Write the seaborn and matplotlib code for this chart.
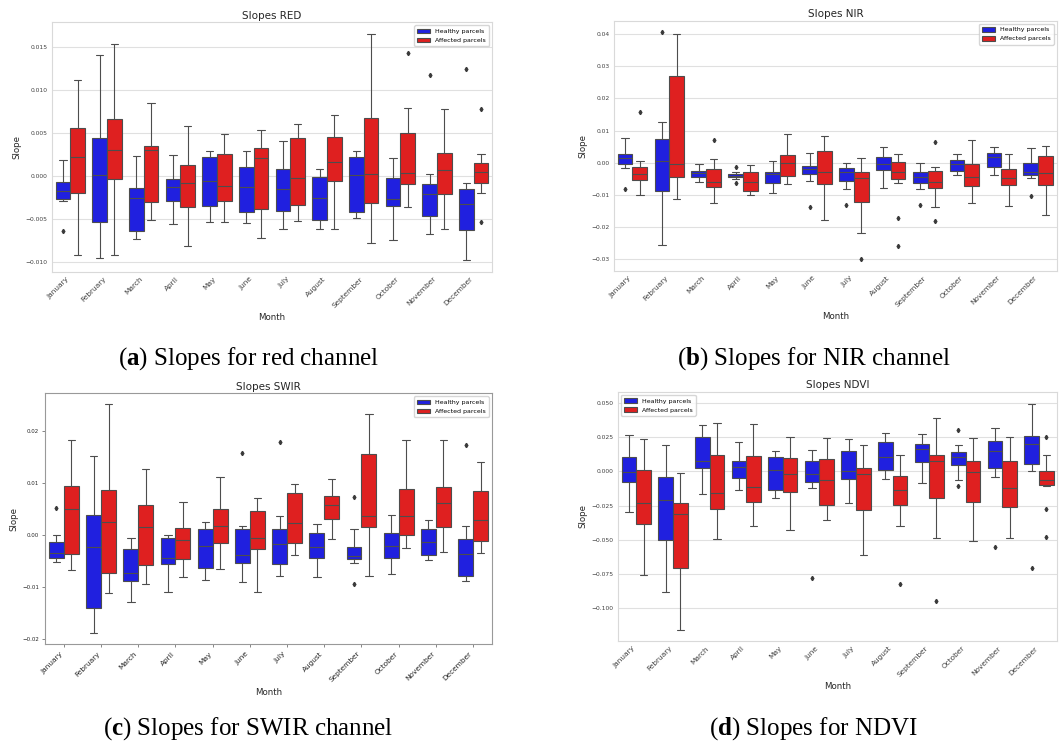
import numpy as np
import pandas as pd
import seaborn as sns
import matplotlib.pyplot as plt
from matplotlib.ticker import MultipleLocator

months = ['January', 'February', 'March', 'April', 'May', 'June', 'July',
          'August', 'September', 'October', 'November', 'December']
groups = ['Healthy parcels', 'Affected parcels']

# each row: [lower whisker, Q1, median, Q3, upper whisker]
red_healthy = [
    [-0.00286, -0.00263, -0.00174, -0.00066, 0.00193],
    [-0.00951, -0.00530, 0.00012, 0.00449, 0.01415],
    [-0.00735, -0.00634, -0.00251, -0.00139, 0.00232],
    [-0.00557, -0.00286, -0.00128, -0.00027, 0.00244],
    [-0.00530, -0.00348, -0.00050, 0.00228, 0.00298],
    [-0.00545, -0.00414, -0.00120, 0.00112, 0.00298],
    [-0.00615, -0.00402, -0.00143, 0.00089, 0.00410],
    [-0.00615, -0.00503, -0.00255, -0.00008, 0.00081],
    [-0.00487, -0.00414, 0.00012, 0.00228, 0.00294],
    [-0.00746, -0.00344, -0.00267, -0.00015, 0.00213],
    [-0.00673, -0.00464, -0.00209, -0.00093, 0.00031],
    [-0.00971, -0.00623, -0.00325, -0.00151, -0.00073],
]
red_affected = [
    [-0.00916, -0.00197, 0.00228, 0.00561, 0.01121],
    [-0.00920, -0.00031, 0.00309, 0.00661, 0.01543],
    [-0.00507, -0.00302, 0.00310, 0.00352, 0.00855],
    [-0.00812, -0.00360, -0.00073, 0.00128, 0.00588],
    [-0.00530, -0.00286, -0.00108, 0.00263, 0.00495],
    [-0.00719, -0.00383, 0.00209, 0.00325, 0.00541],
    [-0.00522, -0.00340, -0.00023, 0.00441, 0.00603],
    [-0.00615, -0.00054, 0.00162, 0.00460, 0.00708],
    [-0.00777, -0.00313, 0.00023, 0.00681, 0.01655],
    [-0.00360, -0.00085, 0.00043, 0.00507, 0.00797],
    [-0.00615, -0.00201, 0.00070, 0.00267, 0.00777],
    [-0.00193, -0.00077, 0.00054, 0.00159, 0.00255],
]
red_healthy_out = [[-0.00642], [], [], [], [], [], [], [], [], [], [0.01176], [0.01245]]
red_affected_out = [[], [], [], [], [], [], [], [], [], [0.0143], [], [0.00781, -0.00534]]

nir_healthy = [
    [-0.00176, -0.00041, 0.00145, 0.00280, 0.00755],
    [-0.02573, -0.00882, 0.00062, 0.00726, 0.01255],
    [-0.00591, -0.00436, -0.00332, -0.00270, -0.00030],
    [-0.00510, -0.00450, -0.00405, -0.00340, -0.00280],
    [-0.00934, -0.00643, -0.00353, -0.00280, 0.00041],
    [-0.00581, -0.00353, -0.00207, -0.00093, 0.00290],
    [-0.00809, -0.00571, -0.00290, -0.00156, -0.00010],
    [-0.00778, -0.00239, -0.00031, 0.00187, 0.00488],
    [-0.00830, -0.00622, -0.00446, -0.00280, -0.00010],
    [-0.00394, -0.00249, -0.00052, 0.00073, 0.00280],
    [-0.00394, -0.00135, 0.00166, 0.00311, 0.00488],
    [-0.00488, -0.00394, -0.00301, -0.00010, 0.00467],
]
nir_affected = [
    [-0.01006, -0.00540, -0.00363, -0.00135, 0.00041],
    [-0.01120, -0.00446, -0.00031, 0.02687, 0.03994],
    [-0.01266, -0.00747, -0.00612, -0.00197, 0.00104],
    [-0.01006, -0.00871, -0.00612, -0.00290, -0.00062],
    [-0.00674, -0.00415, -0.00010, 0.00239, 0.00882],
    [-0.01784, -0.00674, -0.00301, 0.00363, 0.00840],
    [-0.02200, -0.01234, -0.00488, -0.00290, 0.00135],
    [-0.00633, -0.00508, -0.00290, 0.00010, 0.00259],
    [-0.01390, -0.00788, -0.00612, -0.00249, -0.00124],
    [-0.01266, -0.00737, -0.00456, -0.00031, 0.00716],
    [-0.01338, -0.00685, -0.00488, -0.00207, 0.00270],
    [-0.01639, -0.00705, -0.00332, 0.00207, 0.00508],
]
nir_healthy_out = [[-0.0081], [0.04066], [], [-0.0014, -0.0064], [], [-0.01369],
                   [-0.01328], [], [-0.01307], [], [], [-0.01037]]
nir_affected_out = [[0.01566], [], [0.00716], [], [], [], [-0.03008],
                    [-0.01722, -0.02604], [0.00633, -0.01826], [], [], []]

swir_healthy = [
    [-0.00520, -0.00449, -0.00353, -0.00135, 0.00000],
    [-0.01887, -0.01393, -0.00237, 0.00392, 0.01528],
    [-0.01290, -0.00892, -0.00732, -0.00263, -0.00064],
    [-0.01098, -0.00552, -0.00443, -0.00064, 0.00006],
    [-0.00873, -0.00623, -0.00212, 0.00109, 0.00244],
    [-0.00899, -0.00533, -0.00385, 0.00109, 0.00167],
    [-0.00777, -0.00552, -0.00173, 0.00116, 0.00359],
    [-0.00809, -0.00436, -0.00231, 0.00032, 0.00205],
    [-0.00539, -0.00462, -0.00392, -0.00225, 0.00120],
    [-0.00751, -0.00449, -0.00212, 0.00039, 0.00379],
    [-0.00488, -0.00379, -0.00141, 0.00116, 0.00282],
    [-0.00892, -0.00783, -0.00366, -0.00083, 0.00167],
]
swir_affected = [
    [-0.00680, -0.00359, 0.00494, 0.00944, 0.01829],
    [-0.01110, -0.00738, 0.00250, 0.00860, 0.02516],
    [-0.00937, -0.00578, 0.00154, 0.00571, 0.01264],
    [-0.00809, -0.00462, -0.00103, 0.00128, 0.00635],
    [-0.00648, -0.00160, 0.00167, 0.00494, 0.01110],
    [-0.01098, -0.00270, -0.00058, 0.00456, 0.00706],
    [-0.00379, -0.00154, 0.00225, 0.00815, 0.00982],
    [-0.00077, 0.00315, 0.00578, 0.00757, 0.01085],
    [-0.00796, 0.00148, 0.00366, 0.01566, 0.02330],
    [-0.00244, 0.00000, 0.00372, 0.00879, 0.01829],
    [-0.00327, 0.00160, 0.00623, 0.00931, 0.01823],
    [-0.00340, -0.00116, 0.00289, 0.00841, 0.01406],
]
swir_healthy_out = [[0.00513], [], [], [], [], [0.01585], [0.01797], [],
                    [0.00725, -0.0095], [], [], [0.01733]]
swir_affected_out = [[], [], [], [], [], [], [], [], [], [], [], []]

ndvi_healthy = [
    [-0.02994, -0.00803, -0.00024, 0.01047, 0.02677],
    [-0.08811, -0.05038, -0.02093, -0.00389, 0.01899],
    [-0.01680, 0.00219, 0.00779, 0.02483, 0.03383],
    [-0.01339, -0.00511, 0.00292, 0.00779, 0.02166],
    [-0.01923, -0.01339, 0.00073, 0.01071, 0.01509],
    [-0.01193, -0.00779, -0.00219, 0.00779, 0.01558],
    [-0.02337, -0.00584, 0.00024, 0.01460, 0.02337],
    [-0.00535, 0.00073, 0.01047, 0.02142, 0.02823],
    [-0.00852, 0.00706, 0.01631, 0.02020, 0.02750],
    [-0.00657, 0.00487, 0.01047, 0.01436, 0.01947],
    [-0.00389, 0.00268, 0.01485, 0.02215, 0.03189],
    [0.00024, 0.00511, 0.01972, 0.02604, 0.04941],
]
ndvi_affected = [
    [-0.07545, -0.03870, -0.02337, 0.00122, 0.02337],
    [-0.11586, -0.07059, -0.03091, -0.02337, -0.00097],
    [-0.04917, -0.02750, -0.01606, 0.01217, 0.03554],
    [-0.03992, -0.02264, -0.01168, 0.01144, 0.03481],
    [-0.04308, -0.01533, -0.00219, 0.00998, 0.02531],
    [-0.03554, -0.02458, -0.00633, 0.00925, 0.02434],
    [-0.06134, -0.02823, -0.00219, 0.00268, 0.01947],
    [-0.04016, -0.02458, -0.01339, -0.00365, 0.01168],
    [-0.04892, -0.01923, 0.00779, 0.01168, 0.03919],
    [-0.05087, -0.02215, -0.00073, 0.00730, 0.02434],
    [-0.04892, -0.02629, -0.01241, 0.00730, 0.02531],
    [-0.01071, -0.00998, -0.00608, 0.00049, 0.01217],
]
ndvi_healthy_out = [[], [], [], [], [], [-0.07813], [], [], [],
                    [0.03018, -0.01071], [-0.05501], [-0.07034]]
ndvi_affected_out = [[], [], [], [], [], [], [], [-0.08251], [-0.09444], [], [],
                     [0.02531, -0.0275, -0.04795]]


def make_frame(healthy, affected, healthy_out, affected_out):
    # rebuild sample points whose quartiles/whiskers match the read-off summaries
    rows = []
    for grp, stats, outs in [(groups[0], healthy, healthy_out),
                             (groups[1], affected, affected_out)]:
        for m, s, o in zip(months, stats, outs):
            lo, q1, med, q3, hi = s
            vals = [lo] + [q1] * 10 + [med] * 10 + [q3] * 10 + [hi] + list(o)
            rows += [(m, grp, v) for v in vals]
    return pd.DataFrame(rows, columns=['Month', 'Group', 'Slope'])


palette = {'Healthy parcels': 'blue', 'Affected parcels': 'red'}
line_gray = '#4d4d4d'

plt.rcParams['mathtext.fontset'] = 'custom'
plt.rcParams['mathtext.rm'] = 'Liberation Serif'
plt.rcParams['mathtext.bf'] = 'Liberation Serif:bold'

fig = plt.figure(figsize=(10.61, 7.43), dpi=100)

panels = [
    ('Slopes RED', red_healthy, red_affected, red_healthy_out, red_affected_out,
     [0.049, 0.6343, 0.4147, 0.3357], (-0.0111, 0.0179), 0.005, 'upper right', 'whitegrid'),
    ('Slopes NIR', nir_healthy, nir_affected, nir_healthy_out, nir_affected_out,
     [0.5787, 0.6357, 0.4172, 0.3365], (-0.0336, 0.0442), 0.01, 'upper right', 'whitegrid'),
    ('Slopes SWIR', swir_healthy, swir_affected, swir_healthy_out, swir_affected_out,
     [0.0427, 0.1329, 0.4207, 0.3378], (-0.0210, 0.0273), 0.01, 'upper right', 'ticks'),
    ('Slopes NDVI', ndvi_healthy, ndvi_affected, ndvi_healthy_out, ndvi_affected_out,
     [0.5825, 0.1373, 0.4140, 0.3355], (-0.1239, 0.0582), 0.025, 'upper left', 'whitegrid'),
]

for title, h, a, ho, ao, rect, ylim, step, loc, style in panels:
    if style == 'whitegrid':
        rc = {'axes.edgecolor': '.85', 'grid.color': '.88'}
    else:
        rc = {'axes.edgecolor': '.6', 'xtick.color': '.45', 'ytick.color': '.45'}
    with sns.axes_style(style, rc=rc):
        ax = fig.add_axes(rect)
        df = make_frame(h, a, ho, ao)
        sns.boxplot(data=df, x='Month', y='Slope', hue='Group', order=months,
                    hue_order=groups, palette=palette, linewidth=0.8,
                    linecolor=line_gray, fliersize=2.2,
                    flierprops=dict(marker='d', markerfacecolor='#3a3a3a',
                                    markeredgecolor='#3a3a3a'), ax=ax)
    if style == 'ticks':
        for sp in ax.spines.values():
            sp.set_visible(True)
        ax.tick_params(length=2.5, width=0.6, labelcolor='#262626', pad=2)
        ax.tick_params(axis='y', labelsize=4.0)
        ax.tick_params(axis='x', labelsize=5.3)
    else:
        ax.tick_params(length=0, pad=3, labelcolor='#404040')
        ax.tick_params(axis='y', labelsize=4.3)
        ax.tick_params(axis='x', labelsize=5.3)
    ax.set_ylim(*ylim)
    ax.yaxis.set_major_locator(MultipleLocator(step))
    ax.set_title(title, fontsize=7.5, pad=2.5, color='#262626')
    ax.set_xlabel('Month', fontsize=6.2, color='#262626', labelpad=3)
    ax.set_ylabel('Slope', fontsize=6.2, color='#262626', labelpad=3)
    plt.setp(ax.get_xticklabels(), rotation=45, ha='right')
    sns.move_legend(ax, loc, title=None, fontsize=4.5, frameon=True,
                    borderpad=0.5, labelspacing=0.55, handleheight=0.8)

captions = [
    (0.234, 0.5087, r'($\mathbf{a}$) Slopes for red channel'),
    (0.767, 0.5087, r'($\mathbf{b}$) Slopes for NIR channel'),
    (0.234, 0.0108, r'($\mathbf{c}$) Slopes for SWIR channel'),
    (0.767, 0.0108, r'($\mathbf{d}$) Slopes for NDVI'),
]
for x, y, text in captions:
    fig.text(x, y, text, ha='center', va='baseline', fontsize=18,
             family='Liberation Serif', color='black')

fig.savefig('out.png', dpi=100, facecolor='white')
